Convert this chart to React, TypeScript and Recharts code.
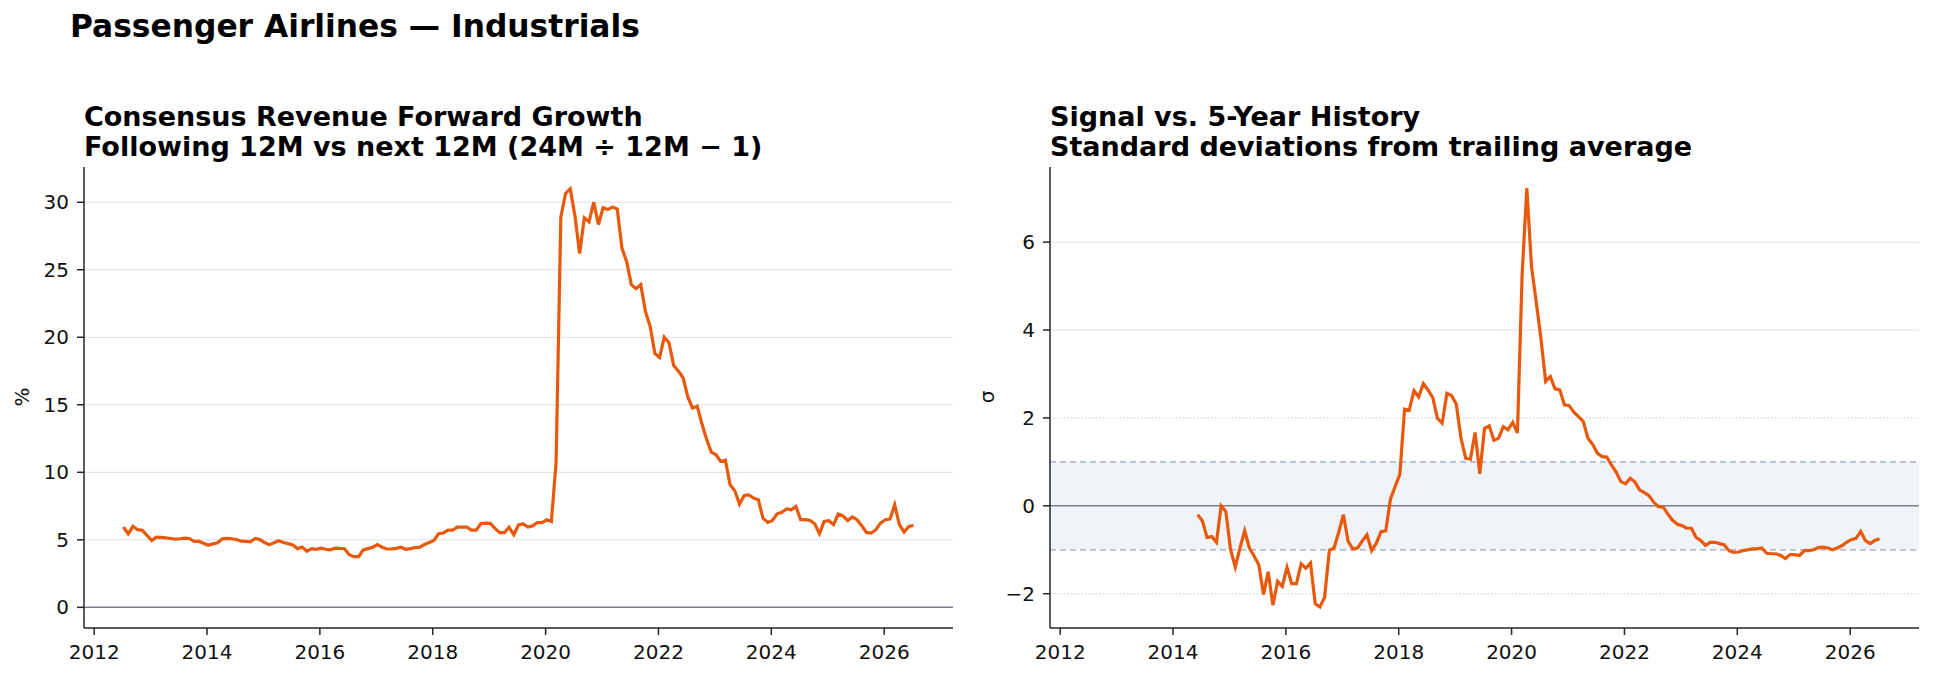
import {
  LineChart,
  Line,
  XAxis,
  YAxis,
  ReferenceLine,
  ReferenceArea,
} from 'recharts';

// monthly observations, first one Jul 2012
const START_YEAR = 2012;
const START_MONTH = 7;

const consensusGrowth = [
  5.95, 5.45, 6.0, 5.75, 5.7, 5.33, 4.95, 5.2, 5.18, 5.15, 5.1, 5.05,
  5.08, 5.12, 5.1, 4.88, 4.9, 4.75, 4.6, 4.7, 4.78, 5.07, 5.1, 5.08,
  5.02, 4.9, 4.88, 4.85, 5.1, 5.02, 4.8, 4.64, 4.78, 4.93, 4.8, 4.72,
  4.62, 4.35, 4.47, 4.15, 4.35, 4.3, 4.38, 4.3, 4.25, 4.38, 4.36, 4.34,
  3.9, 3.75, 3.75, 4.25, 4.35, 4.45, 4.65, 4.45, 4.32, 4.32, 4.37, 4.45,
  4.3, 4.35, 4.42, 4.45, 4.65, 4.8, 4.95, 5.45, 5.5, 5.72, 5.72, 5.94,
  5.94, 5.94, 5.72, 5.72, 6.2, 6.24, 6.22, 5.85, 5.53, 5.53, 5.94, 5.38,
  6.1, 6.18, 5.94, 6.03, 6.28, 6.28, 6.48, 6.36, 10.8, 28.9, 30.65, 31.0,
  29.0, 26.2, 28.85, 28.55, 30.0, 28.35, 29.6, 29.46, 29.65, 29.5, 26.6, 25.6,
  23.9, 23.6, 23.9, 21.9, 20.8, 18.8, 18.5, 20.0, 19.6, 17.9, 17.5, 17.0,
  15.6, 14.75, 14.9, 13.6, 12.45, 11.5, 11.3, 10.8, 10.9, 9.07, 8.63, 7.65,
  8.28, 8.33, 8.09, 7.97, 6.61, 6.29, 6.43, 6.93, 7.03, 7.28, 7.23, 7.47,
  6.49, 6.49, 6.43, 6.19, 5.45, 6.36, 6.41, 6.12, 6.91, 6.78, 6.43, 6.69,
  6.49, 6.04, 5.55, 5.5, 5.75, 6.24, 6.49, 6.54, 7.6, 6.12, 5.58, 5.99,
  6.07,
];

// z-score vs 5-year history, starts Jun 2014 (23 months after the first observation)
const SIGNAL_OFFSET = 23;
const signalSigma = [
  -0.2, -0.34, -0.72, -0.7, -0.83, 0.0, -0.13, -1.0, -1.39, -0.96, -0.57, -0.96,
  -1.14, -1.34, -2.02, -1.5, -2.26, -1.72, -1.83, -1.4, -1.77, -1.77, -1.32, -1.42,
  -1.3, -2.23, -2.3, -2.08, -1.01, -0.96, -0.6, -0.2, -0.81, -0.98, -0.96, -0.8,
  -0.66, -1.02, -0.85, -0.59, -0.57, 0.15, 0.44, 0.72, 2.2, 2.18, 2.62, 2.48,
  2.78, 2.63, 2.46, 1.99, 1.88, 2.56, 2.51, 2.31, 1.54, 1.08, 1.06, 1.67,
  0.73, 1.76, 1.82, 1.49, 1.54, 1.8, 1.73, 1.9, 1.66, 5.25, 7.23, 5.44,
  4.64, 3.81, 2.83, 2.94, 2.66, 2.64, 2.3, 2.28, 2.13, 2.03, 1.92, 1.54,
  1.4, 1.2, 1.12, 1.11, 0.93, 0.77, 0.55, 0.5, 0.63, 0.54, 0.36, 0.3,
  0.23, 0.08, -0.02, -0.03, -0.19, -0.33, -0.42, -0.45, -0.51, -0.51, -0.72, -0.79,
  -0.9, -0.83, -0.83, -0.86, -0.89, -1.02, -1.06, -1.05, -1.02, -1.0, -0.98, -0.98,
  -0.96, -1.08, -1.09, -1.09, -1.13, -1.2, -1.11, -1.11, -1.13, -1.02, -1.02, -1.0,
  -0.95, -0.94, -0.96, -1.0, -0.96, -0.91, -0.83, -0.77, -0.74, -0.58, -0.79, -0.86,
  -0.79, -0.75,
];

const yearTicks = [2012, 2014, 2016, 2018, 2020, 2022, 2024, 2026];
const growthTicks = [0, 5, 10, 15, 20, 25, 30];
const sigmaTicks = [-2, 0, 2, 4, 6];

const LINE = '#E8590C';
const GRID = '#dedee6';
const ZERO = '#7d7f8c';
const BAND_EDGE = '#97a6be';
const FONT = 'DejaVu Sans, sans-serif';

const monthTime = (i: number) => START_YEAR + (START_MONTH - 1) / 12 + 0.02 + i / 12;

const growthData = consensusGrowth.map((v, i) => ({ t: monthTime(i), v }));
const sigmaData = signalSigma.map((v, k) => ({ t: monthTime(k + SIGNAL_OFFSET), v }));

const fmt = (v: number) => (v < 0 ? `\u2212${Math.abs(v)}` : `${v}`);

const axisProps = {
  stroke: '#262626',
  strokeWidth: 1.5,
  tickSize: 7,
  tick: { fill: '#111', fontSize: 20, fontFamily: FONT },
};

function GrowthPanel() {
  return (
    <LineChart width={967} height={679} data={growthData} margin={{ top: 167, right: 14, bottom: 0, left: 0 }}>
      <XAxis
        type="number"
        dataKey="t"
        domain={[2011.82, 2027.22]}
        ticks={yearTicks}
        interval={0}
        allowDataOverflow
        height={51}
        tickMargin={10}
        {...axisProps}
      />
      <YAxis
        type="number"
        domain={[-1.53, 32.61]}
        ticks={growthTicks}
        interval={0}
        allowDataOverflow
        width={84}
        tickMargin={8}
        {...axisProps}
      />
      {growthTicks.filter((v) => v !== 0).map((v) => (
        <ReferenceLine key={v} y={v} stroke={GRID} strokeWidth={1} />
      ))}
      <ReferenceLine y={0} stroke={ZERO} strokeWidth={1.5} />
      <Line type="linear" dataKey="v" stroke={LINE} strokeWidth={3.2} dot={false} isAnimationActive={false} />
    </LineChart>
  );
}

function SigmaPanel() {
  return (
    <LineChart width={967} height={679} data={sigmaData} margin={{ top: 167, right: 15, bottom: 0, left: 0 }}>
      <XAxis
        type="number"
        dataKey="t"
        domain={[2011.82, 2027.22]}
        ticks={yearTicks}
        interval={0}
        allowDataOverflow
        height={51}
        tickMargin={10}
        {...axisProps}
      />
      <YAxis
        type="number"
        domain={[-2.78, 7.71]}
        ticks={sigmaTicks}
        interval={0}
        allowDataOverflow
        width={83}
        tickMargin={8}
        tickFormatter={fmt}
        {...axisProps}
      />
      <ReferenceArea y1={-1} y2={1} fill="#f0f3f8" fillOpacity={1} stroke="none" />
      <ReferenceLine y={6} stroke={GRID} strokeWidth={1} />
      <ReferenceLine y={4} stroke={GRID} strokeWidth={1} />
      <ReferenceLine y={2} stroke="#c3cddc" strokeWidth={1} strokeDasharray="1.5 2" />
      <ReferenceLine y={-2} stroke="#c3cddc" strokeWidth={1} strokeDasharray="1.5 2" />
      <ReferenceLine y={1} stroke={BAND_EDGE} strokeWidth={1.2} strokeDasharray="6 4" />
      <ReferenceLine y={-1} stroke={BAND_EDGE} strokeWidth={1.2} strokeDasharray="6 4" />
      <ReferenceLine y={0} stroke={ZERO} strokeWidth={1.5} />
      <Line type="linear" dataKey="v" stroke={LINE} strokeWidth={3.2} dot={false} isAnimationActive={false} />
    </LineChart>
  );
}

export default function App() {
  return (
    <div style={{ position: 'absolute', left: 0, top: 0, width: 1934, height: 679, background: '#fff', fontFamily: FONT }}>
      <div style={{ position: 'absolute', left: 0, top: 0 }}>
        <GrowthPanel />
      </div>
      <div style={{ position: 'absolute', left: 967, top: 0 }}>
        <SigmaPanel />
      </div>
      <svg width={1934} height={679} style={{ position: 'absolute', left: 0, top: 0, pointerEvents: 'none' }} fontFamily={FONT}>
        <text x={70} y={37} fontSize={31.3} fontWeight="bold" fill="#000">
          Passenger Airlines — Industrials
        </text>
        <text x={84} y={126} fontSize={27} fontWeight="bold" fill="#000">
          Consensus Revenue Forward Growth
        </text>
        <text x={84} y={156} fontSize={27} fontWeight="bold" fill="#000">
          Following 12M vs next 12M (24M ÷ 12M − 1)
        </text>
        <text x={1050} y={126} fontSize={27} fontWeight="bold" fill="#000">
          Signal vs. 5-Year History
        </text>
        <text x={1050} y={156} fontSize={27} fontWeight="bold" fill="#000">
          Standard deviations from trailing average
        </text>
        <text x={29} y={397} fontSize={20} fill="#111" textAnchor="middle" transform="rotate(-90 29 397)">
          %
        </text>
        <text x={994} y={397} fontSize={20} fill="#111" textAnchor="middle" transform="rotate(-90 994 397)">
          σ
        </text>
      </svg>
    </div>
  );
}
